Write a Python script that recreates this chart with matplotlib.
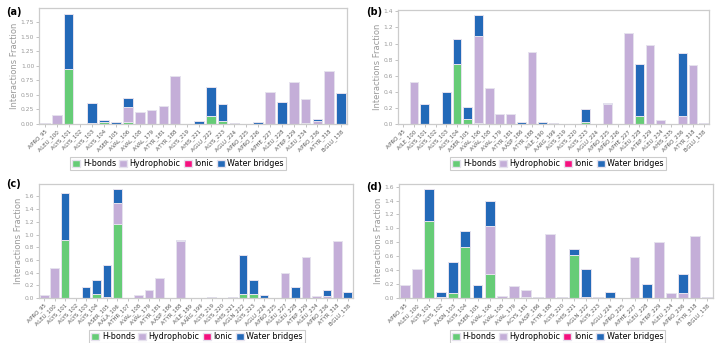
import numpy as np
import matplotlib
matplotlib.use("Agg")
import matplotlib.pyplot as plt
from matplotlib.patches import Patch
from matplotlib.ticker import MultipleLocator, FormatStrFormatter

# colours of the four interaction types
c_hb = "#66cc77"
c_hp = "#c4aed8"
c_ion = "#f5107f"
c_wb = "#2369b8"

# ---- panel (a)
labels_a = ["A:PRO_95", "A:LEU_100", "A:LYS_101", "A:LYS_102", "A:LYS_103", "A:LYS_104",
            "A:SER_105", "A:VAL_106", "A:VAL_108", "A:VAL_179", "A:TYR_181", "A:TYR_188",
            "A:LYS_219", "A:HIS_221", "A:GLU_222", "A:LYS_223", "A:GLU_224", "A:PRO_225",
            "A:PRO_226", "A:PHE_227", "A:LEU_228", "A:TRP_229", "A:LEU_234", "A:PRO_236",
            "A:TYR_318", "B:GLU_138"]
hb_a = [0, 0, 0.94, 0, 0.02, 0.035, 0, 0.035, 0, 0, 0, 0, 0, 0, 0.14, 0.05, 0, 0, 0, 0,
        0, 0, 0.02, 0, 0, 0]
hp_a = [0.01, 0.15, 0, 0, 0, 0, 0, 0.255, 0.20, 0.24, 0.31, 0.82, 0, 0, 0, 0, 0, 0, 0,
        0.55, 0, 0.72, 0.41, 0.05, 0.92, 0]
ion_a = [0, 0, 0, 0, 0, 0, 0, 0, 0, 0, 0, 0, 0, 0, 0, 0.005, 0, 0, 0, 0, 0, 0, 0, 0, 0, 0]
wb_a = [0, 0, 0.96, 0.005, 0.34, 0.035, 0.035, 0.15, 0, 0, 0, 0, 0.005, 0.06, 0.49, 0.285,
        0.02, 0, 0.04, 0, 0.37, 0, 0, 0.04, 0, 0.53]

# ---- panel (b)
labels_b = ["A:PRO_95", "A:ILE_100", "A:LYS_101", "A:LYS_102", "A:LYS_103", "A:LYS_104",
            "A:SER_105", "A:VAL_106", "A:VAL_108", "A:VAL_179", "A:TYR_181", "A:ASP_186",
            "A:TYR_188", "A:ILE_190", "A:ARG_199", "A:LYS_219", "A:LYS_220", "A:LYS_223",
            "A:GLU_224", "A:PRO_225", "A:PRO_226", "A:PHE_227", "A:LEU_228", "A:TRP_229",
            "A:LEU_234", "A:HIS_235", "A:PRO_236", "A:TYR_318", "B:GLU_138"]
hb_b = [0, 0, 0, 0, 0, 0.74, 0.06, 0.01, 0, 0, 0, 0, 0, 0, 0, 0, 0, 0.03, 0, 0, 0, 0,
        0.10, 0, 0, 0, 0, 0, 0]
hp_b = [0.005, 0.52, 0, 0, 0, 0, 0, 1.08, 0.45, 0.13, 0.13, 0, 0.90, 0, 0, 0, 0, 0, 0,
        0.25, 0, 1.13, 0, 0.98, 0.05, 0, 0.10, 0.73, 0]
ion_b = [0, 0, 0, 0, 0, 0, 0, 0, 0, 0, 0, 0, 0, 0, 0, 0, 0, 0, 0, 0, 0, 0, 0.005, 0, 0,
         0, 0, 0, 0]
wb_b = [0, 0, 0.25, 0.005, 0.40, 0.32, 0.15, 0.26, 0, 0, 0, 0.02, 0, 0.02, 0.01, 0, 0,
        0.16, 0.005, 0.005, 0.005, 0, 0.635, 0, 0, 0.005, 0.78, 0, 0.01]

# ---- panel (c)
labels_c = ["A:PRO_95", "A:LEU_100", "A:LYS_101", "A:LYS_102", "A:LYS_103", "A:LYS_104",
            "A:SER_105", "A:ALA_106", "A:THR_107", "A:VAL_108", "A:VAL_179", "A:TYR_181",
            "A:ASP_186", "A:TYR_188", "A:ILE_189", "A:ARG_199", "A:LYS_219", "A:LYS_220",
            "A:HIS_221", "A:GLN_222", "A:LYS_223", "A:GLU_224", "A:PRO_225", "A:LEU_227",
            "A:LEU_228", "A:TRP_229", "A:LEU_234", "A:PRO_236", "A:TYR_318", "B:GLU_138"]
hb_c = [0, 0, 0.92, 0, 0, 0.07, 0.02, 1.16, 0, 0, 0, 0, 0, 0, 0, 0, 0, 0, 0, 0.06, 0.06,
        0, 0, 0, 0, 0, 0, 0, 0, 0]
hp_c = [0.05, 0.47, 0, 0, 0, 0, 0, 0.33, 0, 0.04, 0.12, 0.31, 0, 0.89, 0, 0, 0, 0, 0, 0,
        0, 0.005, 0.005, 0.40, 0, 0.65, 0.03, 0.03, 0.89, 0]
ion_c = [0] * 30
wb_c = [0, 0, 0.74, 0, 0.17, 0.22, 0.50, 0.22, 0.005, 0, 0, 0, 0, 0.02, 0.005, 0.005, 0.01,
        0, 0.02, 0.61, 0.22, 0.05, 0, 0, 0.18, 0, 0, 0.09, 0, 0.10]

# ---- panel (d)
labels_d = ["A:PRO_95", "A:LEU_100", "A:LYS_101", "A:LYS_102", "A:ASN_103", "A:LYS_104",
            "A:SER_105", "A:VAL_106", "A:VAL_108", "A:VAL_179", "A:CYS_181", "A:ASP_186",
            "A:TYR_188", "A:LYS_220", "A:HIS_221", "A:GLN_222", "A:LYS_223", "A:GLU_224",
            "A:PRO_225", "A:PHE_227", "A:LEU_228", "A:TRP_229", "A:LEU_234", "A:PRO_236",
            "A:TYR_318", "B:GLU_138"]
hb_d = [0, 0, 1.11, 0, 0.07, 0.73, 0, 0.34, 0, 0, 0.02, 0, 0, 0, 0.62, 0.02, 0, 0, 0, 0,
        0, 0, 0, 0, 0, 0]
hp_d = [0.18, 0.42, 0, 0.02, 0, 0, 0, 0.69, 0.03, 0.17, 0.10, 0, 0.92, 0, 0, 0, 0.005, 0,
        0.005, 0.59, 0, 0.80, 0.07, 0.07, 0.89, 0]
ion_d = [0] * 26
wb_d = [0, 0, 0.45, 0.06, 0.45, 0.23, 0.19, 0.36, 0, 0, 0, 0.01, 0, 0.01, 0.08, 0.39, 0.01,
        0.08, 0, 0, 0.20, 0, 0, 0.28, 0, 0.01]

W, H = 721, 343


def px_axes(fig, left, top, right, bottom):
    return fig.add_axes([left / W, 1 - bottom / H, (right - left) / W, (bottom - top) / H])


def draw_panel(ax, labels, hb, hp, ion, wb, step, fmt):
    x = np.arange(len(labels))
    bottom = np.zeros(len(labels))
    for vals, col in [(hb, c_hb), (hp, c_hp), (ion, c_ion), (wb, c_wb)]:
        vals = np.array(vals, dtype=float)
        ax.bar(x, vals, 0.82, bottom=bottom, color=col, edgecolor="#e6e2ee", linewidth=0.7)
        bottom += vals
    ax.set_xlim(-0.5, len(labels) - 0.5)
    ax.set_ylim(0, bottom.max() * 1.05)
    ax.yaxis.set_major_locator(MultipleLocator(step))
    ax.yaxis.set_major_formatter(FormatStrFormatter(fmt))
    ax.set_xticks(x)
    ax.set_xticklabels(labels, rotation=45, ha="right", rotation_mode="anchor",
                       fontsize=3.9, color="#555555")
    ax.tick_params(axis="x", length=2, width=0.5, color="#aaaaaa", pad=1)
    ax.tick_params(axis="y", labelsize=4.3, labelcolor="#999999", length=2, width=0.5,
                   color="#aaaaaa", pad=1.5)
    for s in ax.spines.values():
        s.set_color("#cccccc")
        s.set_linewidth(0.9)
    ax.set_ylabel("Interactions Fraction", fontsize=6, color="#999999", labelpad=1)


fig = plt.figure(figsize=(W / 100, H / 100), dpi=100)

panels = [
    ("(a)", (39, 8, 347, 124), labels_a, hb_a, hp_a, ion_a, wb_a, 0.25, "%.2f", (178, 163.5), (6, 12)),
    ("(b)", (398, 10, 709, 124), labels_b, hb_b, hp_b, ion_b, wb_b, 0.2, "%.1f", (558, 163.5), (366, 12)),
    ("(c)", (39, 184, 353, 298), labels_c, hb_c, hp_c, ion_c, wb_c, 0.2, "%.1f", (197, 336.5), (6, 184)),
    ("(d)", (399, 184, 713, 298), labels_d, hb_d, hp_d, ion_d, wb_d, 0.2, "%.1f", (557.5, 336.5), (366, 187)),
]

handles = [Patch(facecolor=c_hb, edgecolor="#e6e2ee", label="H-bonds"),
           Patch(facecolor=c_hp, edgecolor="#e6e2ee", label="Hydrophobic"),
           Patch(facecolor=c_ion, edgecolor="#e6e2ee", label="Ionic"),
           Patch(facecolor=c_wb, edgecolor="#e6e2ee", label="Water bridges")]

for tag, box, labels, hb, hp, ion, wb, step, fmt, leg_xy, tag_xy in panels:
    ax = px_axes(fig, *box)
    draw_panel(ax, labels, hb, hp, ion, wb, step, fmt)
    leg = fig.legend(handles=handles, loc="center", ncol=4,
                     bbox_to_anchor=(leg_xy[0] / W, 1 - leg_xy[1] / H),
                     fontsize=5.8, handlelength=1.0, handleheight=1.0, handletextpad=0.3,
                     columnspacing=0.4, borderpad=0.25, fancybox=False, framealpha=1)
    leg.get_frame().set_edgecolor("#cccccc")
    leg.get_frame().set_linewidth(0.8)
    fig.text(tag_xy[0] / W, 1 - tag_xy[1] / H, tag, fontsize=7, fontweight="bold",
             va="center", ha="left")

fig.savefig("out.png", dpi=100)
